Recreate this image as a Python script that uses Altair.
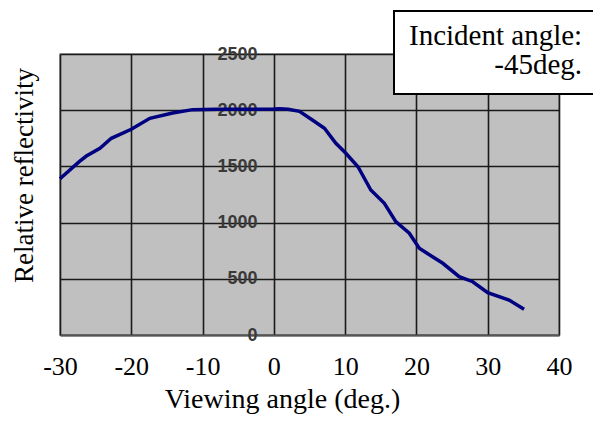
import altair as alt
import pandas as pd

angles = [-30, -27.3, -26.3, -24.4, -22.8, -20, -17.4, -14.2, -11.4, -8, -4, 0, 0.8, 2,
          3.6, 5.4, 7.1, 8.7, 10.1, 11.8, 13.6, 15.5, 17.1, 19.0, 20.4, 23.7, 26.0, 27.9,
          30.0, 33.0, 35.1]
reflectivity = [1390, 1542, 1592, 1661, 1750, 1830, 1928, 1975, 2005, 2008, 2008, 2010, 2012, 2008,
                1990, 1913, 1839, 1705, 1617, 1497, 1290, 1172, 1008, 905, 771, 638, 519, 474,
                376, 311, 229]
x_ticks = [-30, -20, -10, 0, 10, 20, 30, 40]
y_ticks = [0, 500, 1000, 1500, 2000, 2500]
box_lines = ["Incident angle:", "-45deg."]

df = pd.DataFrame({"angle": angles, "refl": reflectivity})

line = alt.Chart(df).mark_line(color="#000080", strokeWidth=3.5).encode(
    x=alt.X("angle:Q", scale=alt.Scale(domain=[-30, 40], nice=False, zero=False),
            axis=alt.Axis(values=x_ticks, title="Viewing angle (deg.)", grid=True,
                          gridColor="#1a1a1a", gridWidth=1.6, gridOpacity=1,
                          ticks=False, domain=True, domainColor="#555", domainWidth=2,
                          labelExpr="'' + datum.value",
                          labelFont="Liberation Serif", labelFontSize=26, labelColor="#000",
                          labelPadding=18, labelFlush=False,
                          titleFont="Liberation Serif", titleFontSize=28, titleFontWeight="normal",
                          titleColor="#000", titleX=222, titleY=72, titleAlign="center",
                          titleBaseline="alphabetic")),
    y=alt.Y("refl:Q", scale=alt.Scale(domain=[0, 2500], nice=False),
            axis=alt.Axis(values=y_ticks, title="Relative reflectivity", grid=True,
                          gridColor="#1a1a1a", gridWidth=1.6, gridOpacity=1,
                          ticks=False, domain=False, offset=-214,
                          labelExpr="'' + datum.value",
                          labelFont="Liberation Sans", labelFontSize=18, labelFontWeight="bold",
                          labelColor="#3a3a3a",
                          labelPadding=17, labelFlush=False,
                          titleFont="Liberation Serif", titleFontSize=27, titleFontWeight="normal",
                          titleColor="#000", titleX=-242, titleY=121, titleAngle=270,
                          titleAlign="center", titleBaseline="alphabetic")),
)

box = alt.Chart(pd.DataFrame({"t": [box_lines[0]]})).mark_rect(
    fill="white", stroke="black", strokeWidth=2
).encode(x=alt.value(334), x2=alt.value(545), y=alt.value(-43), y2=alt.value(40))

t1 = alt.Chart(pd.DataFrame({"t": [box_lines[0]]})).mark_text(
    font="Liberation Serif", fontSize=29, align="left", baseline="alphabetic", color="black"
).encode(text="t:N", x=alt.value(349), y=alt.value(-9))

t2 = alt.Chart(pd.DataFrame({"t": [box_lines[1]]})).mark_text(
    font="Liberation Serif", fontSize=29, align="right", baseline="alphabetic", color="black"
).encode(text="t:N", x=alt.value(522), y=alt.value(20))

chart = alt.layer(line, box, t1, t2).properties(
    width=499, height=281,
    autosize=alt.AutoSizeParams(type="none"),
    padding={"left": 52, "top": 46, "right": 34, "bottom": 79},
).configure_view(fill="#c0c0c0", stroke="#888", strokeWidth=1.5)

chart.save("out.html", embed_options={"renderer": "svg", "actions": False})
